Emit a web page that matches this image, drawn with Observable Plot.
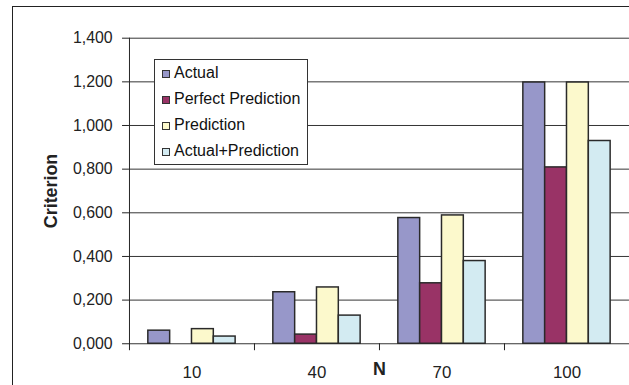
<!DOCTYPE html>
<html>
<head>
<meta charset="utf-8">
<script src="https://cdn.jsdelivr.net/npm/d3@7"></script>
<script src="https://cdn.jsdelivr.net/npm/@observablehq/plot@0.6"></script>
<style>
  html, body { margin: 0; padding: 0; background: #fff; }
  #wrap { position: relative; width: 629px; height: 385px; overflow: hidden; background: #fff; }
  #border { position: absolute; left: 12px; top: 6px; width: 700px; height: 500px;
            border-top: 1px solid #222; border-left: 1px solid #222; }
  #chart { position: absolute; left: 0; top: 0; }
  #legend { position: absolute; left: 154px; top: 59px; width: 152px;
            border: 1px solid #333; background: #fff; color: #111;
            font: 16px "Liberation Sans", Arial, sans-serif; line-height: 26px; }
  #legend .item { display: flex; align-items: baseline; white-space: nowrap; }
  #legend .sw { display: inline-block; width: 6px; height: 6px; border: 1px solid #333;
                margin: 0 4px 0 7px; }
  svg g[aria-label="y-axis label"] text,
  svg g[aria-label="fx-axis label"] text { font-weight: bold; font-size: 18px; }
</style>
</head>
<body>
<div id="wrap">
  <div id="border"></div>
  <div id="chart"></div>
  <div id="legend"></div>
</div>
<script>
// Sample sizes along the x axis
const sizes = ["10", "40", "70", "100"];
// Series names, in legend order
const series = ["Actual", "Perfect Prediction", "Prediction", "Actual+Prediction"];
const colors = ["#9797c9", "#993366", "#fcf9cc", "#d3ebf2"];

// Criterion values per series, one entry per sample size
const actual            = [0.060, 0.236, 0.576, 1.197];
const perfectPrediction = [0.000, 0.042, 0.277, 0.808];
const prediction        = [0.067, 0.258, 0.588, 1.197];
const actualPrediction  = [0.033, 0.129, 0.379, 0.929];

// Y axis ticks
const yTicks = [0, 0.2, 0.4, 0.6, 0.8, 1.0, 1.2, 1.4];
const fmt = d => d.toFixed(3).replace(".", ",");

const valuesBySeries = [actual, perfectPrediction, prediction, actualPrediction];
const rows = sizes.flatMap((n, i) =>
  series.map((s, j) => ({n, series: s, value: valuesBySeries[j][i]}))
);

const W = 634, H = 385, mt = 38, mb = 39, ml = 130, mr = 0;
const innerH = H - mt - mb;

const chart = Plot.plot({
  width: W, height: H,
  marginTop: mt, marginBottom: mb, marginLeft: ml, marginRight: mr,
  style: {fontFamily: "'Liberation Sans', Arial, sans-serif", fontSize: "16px", color: "#222", background: "transparent", overflow: "visible"},
  fx: {domain: sizes, padding: 0},
  x: {domain: series, paddingInner: 0, paddingOuter: 0.75, axis: null},
  y: {domain: [0, 1.4]},
  color: {domain: series, range: colors},
  marks: [
    Plot.ruleY(yTicks, {stroke: "#333", strokeWidth: 1}),
    Plot.barY(rows, {fx: "n", x: "series", y: "value", fill: "series", stroke: "#2a2a2a", strokeWidth: 1.5}),
    // category separators below the x axis
    Plot.frame({anchor: "left", stroke: "#222", insetTop: innerH, insetBottom: -6}),
    // y axis line
    Plot.frame({anchor: "left", facetAnchor: "left", stroke: "#222"}),
    Plot.axisY(yTicks, {
      tickSize: 7, tickPadding: 10, tickFormat: fmt, fontSize: 16,
      label: "Criterion", labelAnchor: "center", labelArrow: "none", labelOffset: 86
    }),
    Plot.axisFx({
      anchor: "bottom", tickSize: 0, tickPadding: 22, fontSize: 17,
      label: "N", labelAnchor: "center", labelArrow: "none", labelOffset: 31
    })
  ]
});
document.getElementById("chart").appendChild(chart);

// legend
const legend = document.getElementById("legend");
series.forEach((s, i) => {
  const item = document.createElement("div");
  item.className = "item";
  const sw = document.createElement("span");
  sw.className = "sw";
  sw.style.background = colors[i];
  const label = document.createElement("span");
  label.textContent = s;
  item.appendChild(sw);
  item.appendChild(label);
  legend.appendChild(item);
});
</script>
</body>
</html>
